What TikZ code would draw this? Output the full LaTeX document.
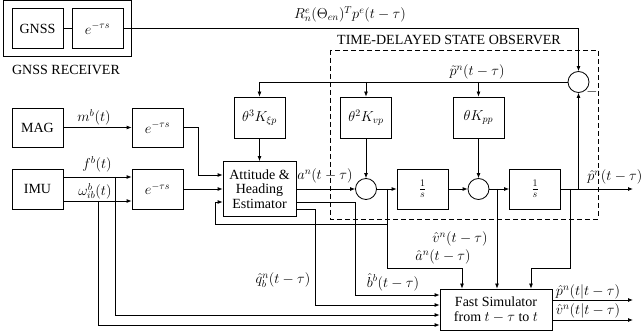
\documentclass[tikz,border=0pt]{standalone}
\usepackage{fontspec}
\setmainfont{Liberation Serif}
\usetikzlibrary{arrows.meta,calc,fit}
\begin{document}
\begin{tikzpicture}[x=1pt,y=-1pt,font=\fontsize{14}{16.5}\selectfont, line width=0.8pt,
 blk/.style={draw, inner sep=1pt, align=center},
 sumc/.style={draw, circle, minimum size=21pt, inner sep=0pt},
 arr/.style={-{Latex[length=5pt,width=4pt]}},
 lbl/.style={inner sep=0pt}]
\useasboundingbox (0,0) rectangle (641,334);
% helper rows
\path (0,175) coordinate (r175) (0,177) coordinate (r177) (0,201) coordinate (r201)
      (0,202) coordinate (r202) (0,209) coordinate (r209) (0,224) coordinate (r224)
      (0,295) coordinate (r295) (0,305) coordinate (r305) (0,315) coordinate (r315)
      (0,325) coordinate (r325) (0,300) coordinate (r300) (0,320) coordinate (r320)
      (462,0) coordinate (x462) (531,0) coordinate (x531);
% GNSS receiver
\node[blk, minimum width=51pt, minimum height=40pt] (gnss) at (37.5,28.5) {GNSS};
\node[blk, minimum width=51pt, minimum height=40pt] (gd) at (97.5,28.5) {$e^{-\tau s}$};
\node[draw, fit=(gnss)(gd), inner sep=8pt] (rcv) {};
\node[lbl] (rcvl) at (66,70) {GNSS RECEIVER};
% sensors
\node[blk, minimum width=51pt, minimum height=39pt] (mag) at (37.5,127.5) {MAG};
\node[blk, minimum width=51pt, minimum height=39pt] (magd) at (157.5,127.5) {$e^{-\tau s}$};
\node[blk, minimum width=51pt, minimum height=40pt] (imu) at (37.5,189) {IMU};
\node[blk, minimum width=51pt, minimum height=40pt] (imud) at (157.5,189) {$e^{-\tau s}$};
\node[blk, minimum width=73pt, minimum height=55pt] (att) at (259.5,189) {Attitude \&\\[-2pt]Heading\\[-2pt]Estimator};
% gains
\node[blk, minimum width=51pt, minimum height=41pt] (K3) at (259.5,117.5) {$\theta^3K_{\xi p}$};
\node[blk, minimum width=51pt, minimum height=41pt] (K2) at (366,117.5) {$\theta^2K_{vp}$};
\node[blk, minimum width=51pt, minimum height=41pt] (K1) at (478.5,117.5) {$\theta K_{pp}$};
% sums and integrators
\node[sumc] (sum0) at (578.5,82) {};
\node[sumc] (sum1) at (366,189) {};
\node[sumc] (sum2) at (478.5,189) {};
\node[blk, minimum width=51pt, minimum height=40pt] (int1) at (422.5,189) {$\frac{1}{s}$};
\node[blk, minimum width=51pt, minimum height=40pt] (int2) at (535,189) {$\frac{1}{s}$};
\node[blk, minimum width=112pt, minimum height=41pt] (fast) at (496,309.5) {Fast Simulator\\[-2pt]from $t-\tau$ to $t$};
% observer frame
\draw[dash pattern=on 5pt off 3pt] (330,50) rectangle (598,219);
\node[lbl] (obsl) at (449,40) {TIME-DELAYED STATE OBSERVER};
% GNSS path
\draw (gnss) -- (gd);
\draw[arr] (gd.east) -| (sum0.north);
\node[lbl] at (350,14) {$R_n^e(\Theta_{en})^Tp^e(t-\tau)$};
\draw[arr] (sum0.west) -| (K3.north);
\coordinate (t2) at (K2.north |- sum0);
\coordinate (t1) at (K1.north |- sum0);
\draw[arr] (t2) -- (K2.north);
\draw[arr] (t1) -- (K1.north);
\node[lbl] at (477,72) {$\tilde p^n(t-\tau)$};
\draw[arr] (K3) -- (att);
\draw[arr] (K2) -- (sum1);
\draw[arr] (K1) -- (sum2);
% main chain
\draw[arr] (att) -- (sum1);
\node[lbl] at (325,176) {$a^n(t-\tau)$};
\draw[arr] (sum1) -- (int1);
\draw[arr] (int1) -- (sum2);
\draw[arr] (sum2) -- (int2);
\coordinate (pout) at (633,189);
\draw[arr] (int2.east) -- (pout);
\node[lbl, anchor=west] at (587,177) {$\hat p^n(t-\tau)$};
\coordinate (fb) at (578.5,189);
\draw[arr] (fb) -- (sum0.south);
\node[lbl] at (592,92) {$-$};
% taps
\coordinate (j1) at (387,189);
\draw[arr] (j1) |- (462,268) -- (fast.north -| x462);
\draw[arr] (j1 |- r224) -| (215,202) -- (att.west |- r202);
\coordinate (j2) at (497,189);
\draw[arr] (j2) -- (fast.north -| j2);
\node[lbl] at (460,239) {$\hat v^n(t-\tau)$};
\node[lbl] at (443,257) {$\hat a^n(t-\tau)$};
\coordinate (j3) at (570,189);
\draw[arr] (j3) |- (531,268) -- (fast.north -| x531);
% attitude outputs
\draw[arr] (att.east |- r202) -| (355,295) -- (fast.west |- r295);
\draw[arr] (att.east |- r209) -| (315,305) -- (fast.west |- r305);
\node[lbl] at (393,282) {$\hat b^b(t-\tau)$};
\node[lbl] at (283,280) {$\hat q_b^n(t-\tau)$};
% IMU
\draw[arr] (imu.east |- r177) -- (imud.west |- r177);
\draw[arr] (imu.east |- r201) -- (imud.west |- r201);
\node[lbl] at (97,164) {$f^b(t)$};
\node[lbl] at (95,191) {$\omega_{ib}^b(t)$};
\draw[arr] (115,177) |- (fast.west |- r315);
\draw[arr] (98,201) |- (fast.west |- r325);
\draw[arr] (imud) -- (att);
% MAG
\draw[arr] (mag) -- (magd);
\node[lbl] at (94,117) {$m^b(t)$};
\draw[arr] (magd.east) -| (198,175) -- (att.west |- r175);
% fast outputs
\draw[arr] (fast.east |- r300) -- (633,300);
\draw[arr] (fast.east |- r320) -- (633,320);
\node[lbl] at (588,292) {$\hat p^n(t|t-\tau)$};
\node[lbl] at (588,311) {$\hat v^n(t|t-\tau)$};
\end{tikzpicture}
\end{document}
